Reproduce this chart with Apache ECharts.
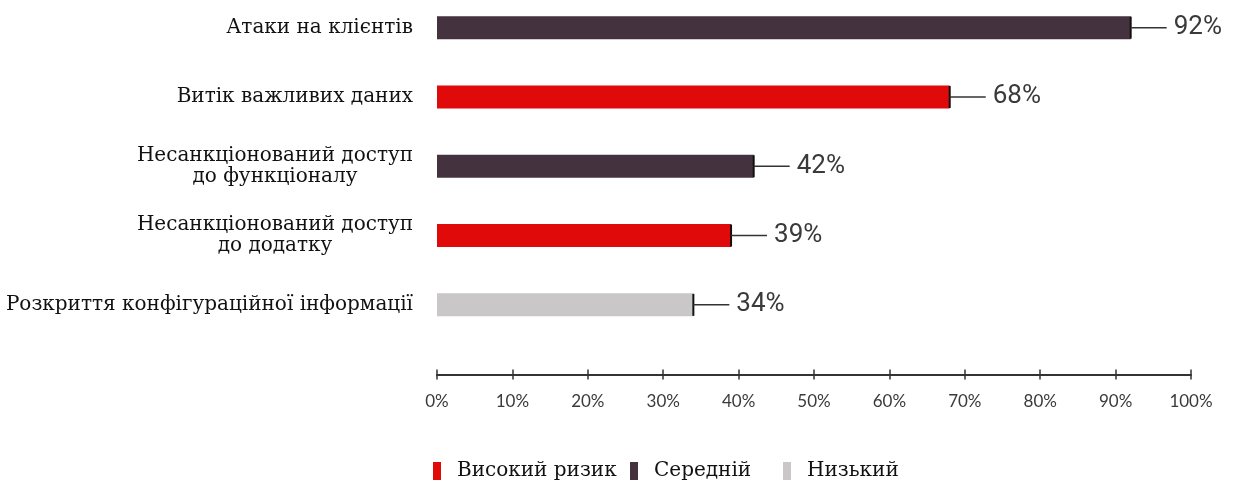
<!DOCTYPE html>
<html>
<head>
<meta charset="utf-8">
<script src="https://cdn.jsdelivr.net/npm/echarts@6/dist/echarts.min.js"></script>
<style>
html,body{margin:0;padding:0;background:#fff;}
#chart{width:1237px;height:482px;}
</style>
</head>
<body>
<div id="chart"></div>
<script>
// ---- data ----
const categories = [
  'Атаки на клієнтів',
  'Витік важливих даних',
  'Несанкціонований доступ\nдо функціоналу',
  'Несанкціонований доступ\nдо додатку',
  'Розкриття конфігураційної інформації'
];
const values = [92, 68, 42, 39, 34];
const riskLevels = ['Середній', 'Високий ризик', 'Середній', 'Високий ризик', 'Низький'];
const legendNames = ['Високий ризик', 'Середній', 'Низький'];
const legendColors = ['#e10a0a', '#45323f', '#c9c7c8'];
const tickLabels = ['0%', '10%', '20%', '30%', '40%', '50%', '60%', '70%', '80%', '90%', '100%'];

const serif = '"DejaVu Serif", "Liberation Serif", serif';
const chart = echarts.init(document.getElementById('chart'), null, {renderer: 'canvas'});

const barSeries = legendNames.map((name, i) => ({
  name: name,
  type: 'bar',
  stack: 'risk',
  barWidth: 23,
  itemStyle: {color: legendColors[i]},
  data: values.map((v, j) => riskLevels[j] === name ? v : null),
  z: 2
}));

const capSeries = {
  type: 'custom',
  name: 'caps',
  data: values.map((v, j) => [v, j]),
  z: 5,
  renderItem: function (params, api) {
    const p = api.coord([api.value(0), api.value(1)]);
    const x = p[0], y = p[1];
    return {
      type: 'group',
      children: [
        {type: 'line', shape: {x1: x, y1: y - 11, x2: x, y2: y + 11}, style: {stroke: '#111', lineWidth: 2}},
        {type: 'line', shape: {x1: x, y1: y, x2: x + 36, y2: y}, style: {stroke: '#333', lineWidth: 1.5}},
        {type: 'text', x: x + 43, y: y, style: {
          text: api.value(0) + '%', textAlign: 'left', textVerticalAlign: 'middle',
          font: '26px "Liberation Sans Narrow", "Roboto", sans-serif', fill: '#3a3a3a'
        }}
      ]
    };
  }
};

function legendAt(name, left) {
  return {
    data: [name],
    left: left,
    top: 461,
    icon: 'rect',
    itemWidth: 8,
    itemHeight: 18,
    itemGap: 0,
    padding: 0,
    textStyle: {fontFamily: serif, fontSize: 20, color: '#111', padding: [0, 0, 0, 11]},
    selectedMode: false
  };
}

chart.setOption({
  animation: false,
  backgroundColor: '#fff',
  grid: {left: 437, right: 46, top: -7, height: 346.5, outerBoundsMode: 'none', containLabel: false},
  legend: [legendAt('Високий ризик', 433), legendAt('Середній', 630), legendAt('Низький', 783)],
  xAxis: [{
    type: 'value', min: 0, max: 100, interval: 10, position: 'bottom', offset: 35,
    axisLine: {show: true, lineStyle: {color: '#333', width: 2}},
    axisTick: {show: true, length: 5, lineStyle: {color: '#333', width: 1.5}},
    splitLine: {show: false},
    axisLabel: {
      margin: 19,
      formatter: function (v) { return tickLabels[Math.round(v / 10)]; },
      fontFamily: 'Lato, "Noto Sans", sans-serif', fontSize: 17, color: '#3a3a3a'
    }
  }, {
    type: 'value', min: 0, max: 100, interval: 10, position: 'bottom', offset: 35,
    axisLine: {show: false},
    axisTick: {show: true, inside: true, length: 5, lineStyle: {color: '#333', width: 1.5}},
    splitLine: {show: false},
    axisLabel: {show: false}
  }],
  yAxis: {
    type: 'category', data: categories, inverse: true,
    axisLine: {show: false}, axisTick: {show: false}, splitLine: {show: false},
    axisLabel: {
      margin: 24,
      formatter: function (v) {
        if (v.indexOf('\n') >= 0) {
          return v.split('\n').map(s => '{c|' + s + '}').join('\n');
        }
        return v;
      },
      fontFamily: serif, fontSize: 20, color: '#111', lineHeight: 21,
      rich: {c: {width: 276, align: 'center', fontFamily: serif, fontSize: 20, color: '#111', lineHeight: 21}}
    }
  },
  series: barSeries.concat([capSeries])
});
</script>
</body>
</html>
